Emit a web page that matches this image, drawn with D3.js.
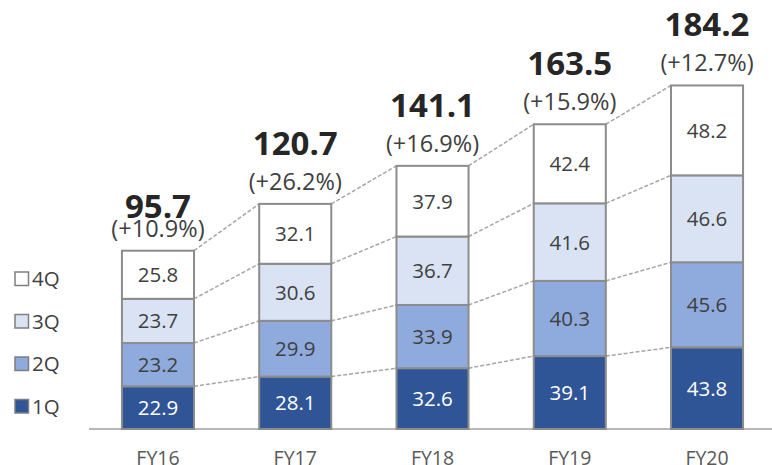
<!DOCTYPE html>
<html>
<head>
<meta charset="utf-8">
<script src="https://cdn.jsdelivr.net/npm/d3@7/dist/d3.min.js"></script>
<style>
  html, body { margin: 0; padding: 0; background: #ffffff; }
  svg { display: block; }
</style>
</head>
<body>
<svg id="chart" width="772" height="465"></svg>
<script>
// ---- data ----
const categories = ["FY16", "FY17", "FY18", "FY19", "FY20"];
const q1 = [22.9, 28.1, 32.6, 39.1, 43.8];
const q2 = [23.2, 29.9, 33.9, 40.3, 45.6];
const q3 = [23.7, 30.6, 36.7, 41.6, 46.6];
const q4 = [25.8, 32.1, 37.9, 42.4, 48.2];
const totals = [95.7, 120.7, 141.1, 163.5, 184.2];
const growth = ["(+10.9%)", "(+26.2%)", "(+16.9%)", "(+15.9%)", "(+12.7%)"];
const seriesNames = ["1Q", "2Q", "3Q", "4Q"];
const seriesValues = [q1, q2, q3, q4];

// ---- styles ----
const fills = ["#2F5597", "#8FAADC", "#DAE3F3", "#FFFFFF"];
const labelColors = ["#FFFFFF", "#404040", "#404040", "#404040"];
const FONT = "'Open Sans', 'DejaVu Sans', sans-serif";

const svg = d3.select("#chart");

const x = d3.scaleBand()
  .domain(categories)
  .range([89, 776])
  .paddingInner(0.475)
  .paddingOuter(0.24);

const y = d3.scaleLinear()
  .domain([0, 200])
  .range([429, 56]);

// build stacked table
const table = categories.map((c, i) => {
  const row = { cat: c };
  seriesNames.forEach((s, k) => row[s] = seriesValues[k][i]);
  return row;
});
const stacked = d3.stack().keys(seriesNames)(table);

// ---- dashed connector lines ----
const connectors = svg.append("g");
stacked.forEach((layer) => {
  for (let i = 0; i < categories.length - 1; i++) {
    connectors.append("line")
      .attr("x1", x(categories[i]) + x.bandwidth())
      .attr("y1", y(layer[i][1]))
      .attr("x2", x(categories[i + 1]))
      .attr("y2", y(layer[i + 1][1]))
      .attr("stroke", "#a6a6a6")
      .attr("stroke-width", 1.5)
      .attr("stroke-dasharray", "4,2");
  }
});

// ---- axis baseline ----
svg.append("line")
  .attr("x1", 89).attr("x2", 772)
  .attr("y1", y(0)).attr("y2", y(0))
  .attr("stroke", "#a0a0a0")
  .attr("stroke-width", 1.5);

// ---- bars ----
const layers = svg.append("g").selectAll("g")
  .data(stacked)
  .join("g");

layers.each(function(layer, k) {
  const g = d3.select(this);
  g.selectAll("rect")
    .data(layer)
    .join("rect")
    .attr("x", (d, i) => x(categories[i]))
    .attr("y", d => y(d[1]))
    .attr("width", x.bandwidth())
    .attr("height", d => y(d[0]) - y(d[1]))
    .attr("fill", fills[k])
    .attr("stroke", "#8c8c8c")
    .attr("stroke-width", 2);
  g.selectAll("text")
    .data(layer)
    .join("text")
    .attr("x", (d, i) => x(categories[i]) + x.bandwidth() / 2)
    .attr("y", d => (y(d[0]) + y(d[1])) / 2)
    .attr("dy", "0.36em")
    .attr("text-anchor", "middle")
    .attr("font-family", FONT)
    .attr("font-size", 20.5)
    .attr("fill", labelColors[k])
    .text(d => d.data[seriesNames[k]].toFixed(1));
});

// ---- totals and growth ----
categories.forEach((c, i) => {
  const cx = x(c) + x.bandwidth() / 2;
  const top = y(totals[i]);
  const lift = i === 0 ? 33 : 49;
  svg.append("text")
    .attr("x", cx)
    .attr("y", top - lift)
    .attr("text-anchor", "middle")
    .attr("font-family", FONT)
    .attr("font-weight", "bold")
    .attr("font-size", 33)
    .attr("fill", "#262626")
    .text(totals[i].toFixed(1));
  svg.append("text")
    .attr("x", cx)
    .attr("y", top - 14)
    .attr("text-anchor", "middle")
    .attr("font-family", FONT)
    .attr("font-size", 23.5)
    .attr("fill", "#404040")
    .text(growth[i]);
});

// ---- category labels ----
const xAxis = d3.axisBottom(x).tickSize(0).tickPadding(0);
const axisG = svg.append("g")
  .attr("transform", `translate(0, ${y(0)})`)
  .call(xAxis);
axisG.select(".domain").remove();
axisG.selectAll("text")
  .attr("y", 36)
  .attr("dy", 0)
  .attr("font-family", FONT)
  .attr("font-size", 19.5)
  .attr("fill", "#595959");

// ---- legend ----
const legendNames = seriesNames.slice().reverse();
const legend = svg.append("g");
legendNames.forEach((name, j) => {
  const k = seriesNames.indexOf(name);
  const cy = 279 + j * 42.5;
  legend.append("rect")
    .attr("x", 15).attr("y", cy - 7)
    .attr("width", 13.5).attr("height", 13.5)
    .attr("fill", fills[k])
    .attr("stroke", "#7f7f7f")
    .attr("stroke-width", 1.5);
  legend.append("text")
    .attr("x", 32).attr("y", cy)
    .attr("dy", "0.36em")
    .attr("font-family", FONT)
    .attr("font-size", 20.5)
    .attr("fill", "#404040")
    .text(name);
});
</script>
</body>
</html>
